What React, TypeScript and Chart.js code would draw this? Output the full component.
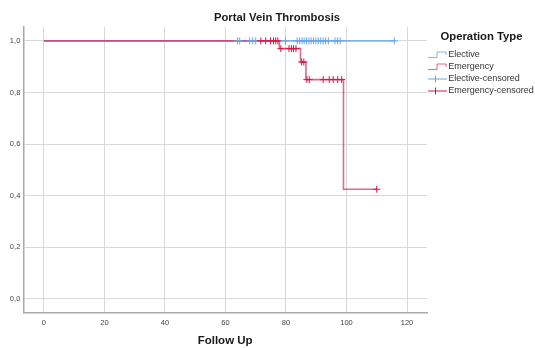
import React, { useEffect, useRef } from "react";
import { Chart, registerables } from "chart.js";

Chart.register(...registerables);

const chartTitle = "Portal Vein Thrombosis";
const xAxisTitle = "Follow Up";
const legendTitle = "Operation Type";
const legendLabels = ["Elective", "Emergency", "Elective-censored", "Emergency-censored"];

const xTicks = [0, 20, 40, 60, 80, 100, 120];
const yTicks = [0, 0.2, 0.4, 0.6, 0.8, 1.0];
const yTickLabels = ["0,0", "0,2", "0,4", "0,6", "0,8", "1,0"];

// Kaplan-Meier step points (time, cumulative survival)
const electiveTimes = [0, 115.8];
const electiveSurv = [1, 1];
const emergencyTimes = [0, 77.8, 84.8, 86.6, 99.0, 110.0];
const emergencySurv = [1, 0.97, 0.918, 0.85, 0.425, 0.425];

// Censored observations
const electiveCensTimes = [64.0, 64.7, 68.0, 69.0, 70.0, 79.8, 83.7, 84.5, 85.3, 86.0, 86.8, 87.6, 88.3, 89.1, 89.9, 90.7, 91.5, 92.3, 93.1, 94.0, 96.2, 97.0, 97.9, 115.8];
const electiveCensSurv = electiveCensTimes.map(() => 1);
const emergencyCensTimes1 = [71.7, 73.3, 74.9, 75.9, 76.6, 77.3];
const emergencyCensTimes2 = [78.3, 81.0, 81.8, 82.5, 83.3];
const emergencyCensTimes3 = [85.2, 85.9];
const emergencyCensTimes4 = [86.9, 87.7, 92.3, 94.3, 95.6, 97.1, 98.4];
const emergencyCensTimes5 = [110.0];

const BLUE_LINE = "rgba(120,172,232,0.9)";
const RED_LINE = "rgba(214,40,86,0.7)";
const BLUE_MARK = "#6aa6e6";
const RED_MARK = "#d21848";

const FONT = "'Liberation Sans', Arial, sans-serif";

export default function App() {
  const ref = useRef<HTMLCanvasElement | null>(null);

  useEffect(() => {
    if (!ref.current) return;
    const emergencyCens = [
      ...emergencyCensTimes1.map((x) => ({ x, y: 1 })),
      ...emergencyCensTimes2.map((x) => ({ x, y: emergencySurv[1] })),
      ...emergencyCensTimes3.map((x) => ({ x, y: emergencySurv[2] })),
      ...emergencyCensTimes4.map((x) => ({ x, y: emergencySurv[3] })),
      ...emergencyCensTimes5.map((x) => ({ x, y: emergencySurv[4] })),
    ];

    const overlay = {
      id: "overlay",
      afterDraw(chart: any) {
        const ctx = chart.ctx;
        const area = chart.chartArea;
        ctx.save();
        ctx.fillStyle = "#1a1a1a";
        ctx.textBaseline = "middle";
        ctx.textAlign = "center";
        ctx.font = `bold 11.3px ${FONT}`;
        ctx.fillText(chartTitle, 277, 18);
        ctx.font = `bold 11.5px ${FONT}`;
        ctx.fillText(xAxisTitle, (area.left + area.right) / 2, 341);
        ctx.textAlign = "left";
        ctx.font = `bold 11.3px ${FONT}`;
        ctx.fillText(legendTitle, 440.5, 37);
        ctx.font = `9px ${FONT}`;
        const ys = [55, 67, 79, 91];
        const cols = [BLUE_LINE, RED_LINE, BLUE_MARK, RED_MARK];
        ys.forEach((y, i) => {
          ctx.strokeStyle = cols[i];
          ctx.lineWidth = 1;
          ctx.beginPath();
          if (i < 2) {
            ctx.moveTo(428, y + 2.5);
            ctx.lineTo(437, y + 2.5);
            ctx.lineTo(437, y - 3);
            ctx.lineTo(446, y - 3);
            ctx.lineTo(446, y);
          } else {
            ctx.moveTo(428, y);
            ctx.lineTo(447, y);
            ctx.moveTo(435.5, y - 3.5);
            ctx.lineTo(435.5, y + 3.5);
          }
          ctx.stroke();
          ctx.fillStyle = "#333";
          ctx.fillText(legendLabels[i], 448.3, y);
        });
        ctx.restore();
      },
    };

    const chart = new Chart(ref.current, {
      type: "scatter",
      data: {
        datasets: [
          {
            label: legendLabels[0],
            data: electiveTimes.map((x, i) => ({ x, y: electiveSurv[i] })),
            showLine: true,
            stepped: true,
            borderColor: BLUE_LINE,
            borderWidth: 1.6,
            pointRadius: 0,
            order: 4,
          },
          {
            label: legendLabels[1],
            data: emergencyTimes.map((x, i) => ({ x, y: emergencySurv[i] })),
            showLine: true,
            stepped: true,
            borderColor: RED_LINE,
            borderWidth: 1.6,
            pointRadius: 0,
            order: 3,
          },
          {
            label: legendLabels[2],
            data: electiveCensTimes.map((x, i) => ({ x, y: electiveCensSurv[i] })),
            pointStyle: "cross",
            pointRadius: 3.5,
            borderColor: BLUE_MARK,
            borderWidth: 1,
            order: 2,
          },
          {
            label: legendLabels[3],
            data: emergencyCens,
            pointStyle: "cross",
            pointRadius: 3.5,
            borderColor: RED_MARK,
            borderWidth: 1,
            order: 1,
          },
        ],
      },
      options: {
        animation: false,
        responsive: false,
        events: [],
        layout: { padding: { left: 0, top: 26.7, right: 108, bottom: 0 } },
        plugins: { legend: { display: false }, title: { display: false }, tooltip: { enabled: false } },
        scales: {
          x: {
            type: "linear",
            min: -6.8,
            max: 126.6,
            afterBuildTicks: (s: any) => {
              s.ticks = xTicks.map((v) => ({ value: v }));
            },
            afterFit: (s: any) => {
              s.height = 348 - 312.3;
            },
            grid: { color: "#d8d8d8", lineWidth: 1, drawTicks: false },
            border: { color: "#aaaaaa", width: 1.5 },
            ticks: { padding: 6, color: "#444", font: { family: FONT, size: 7.5 }, maxRotation: 0 },
          },
          y: {
            type: "linear",
            min: -0.052,
            max: 1.055,
            afterBuildTicks: (s: any) => {
              s.ticks = yTicks.map((v) => ({ value: v }));
            },
            afterFit: (s: any) => {
              s.width = 23.3;
            },
            grid: { color: "#d8d8d8", lineWidth: 1, drawTicks: false },
            border: { color: "#aaaaaa", width: 1.5 },
            ticks: {
              padding: 3,
              color: "#444",
              font: { family: FONT, size: 7.5 },
              callback: (_v: any, i: number) => yTickLabels[i],
            },
          },
        },
      },
      plugins: [overlay],
    });
    return () => chart.destroy();
  }, []);

  return (
    <div style={{ position: "absolute", left: 0, top: 0, width: 535, height: 348, background: "#fff" }}>
      <canvas ref={ref} width={535} height={348} style={{ width: 535, height: 348 }} />
    </div>
  );
}
